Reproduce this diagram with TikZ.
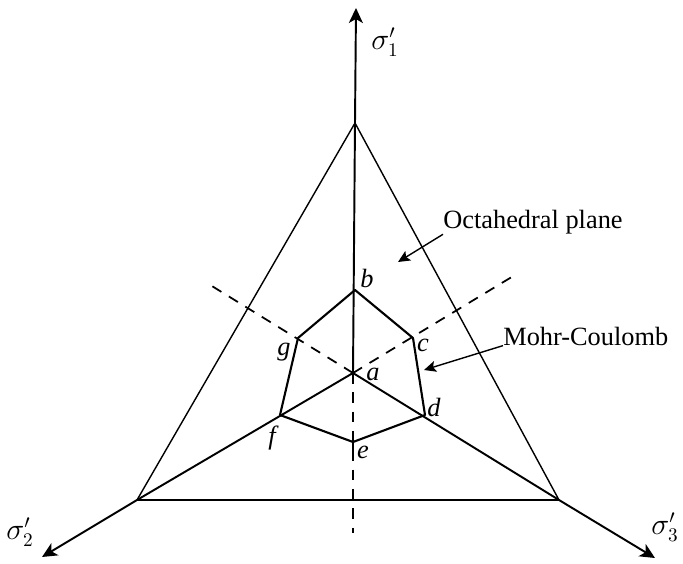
\documentclass[tikz,border=0pt]{standalone}
\usepackage{fontspec}
\setmainfont{Liberation Serif}
\usetikzlibrary{arrows.meta}

\begin{document}
\begin{tikzpicture}[x=0.02cm, y=-0.02cm,
  every node/.style={font=\fontsize{15}{18}\selectfont, inner sep=0pt},
  axis/.style={line width=1.1pt},
  tri/.style={line width=0.8pt},
  hexa/.style={line width=1.2pt, line join=round},
  dashax/.style={line width=1pt, dash pattern=on 6pt off 5pt},
  tip/.style={-{Stealth[length=3mm, width=2.8mm, inset=0.8mm]}},
  pointer/.style={line width=0.8pt, -{Stealth[length=2.4mm, width=2.2mm, inset=0.5mm]}},
  lab/.style={font=\fontsize{15}{18}\selectfont\itshape},
  sig/.style={font=\fontsize{16}{18}\selectfont}]
  \useasboundingbox (0,0) rectangle (683,564);
  % centre, triangle corners, axis ends
  \coordinate (a) at (353,373);
  \coordinate (v1) at (355,123);
  \coordinate (v2) at (137,500);
  \coordinate (v3) at (559,500);
  \coordinate (tip1) at (356,8);
  \coordinate (tip2) at (42,557);
  \coordinate (tip3) at (655,558);
  % ends of the dashed lines
  \coordinate (ul) at (207,283);
  \coordinate (ur) at (515,275);
  \coordinate (dn) at (353,533);
  % hexagon corners
  \coordinate (b) at (355,290);
  \coordinate (c) at (413,338);
  \coordinate (d) at (425,415);
  \coordinate (e) at (353,442);
  \coordinate (f) at (280,415);
  \coordinate (g) at (298,338);
  \coordinate (e1) at (353,432);
  \coordinate (e2) at (353,455);

  \draw[tri] (v1) -- (v2);
  \draw[tri] (v1) -- (v3);
  \draw[axis] (v2) -- (v3);
  \draw[axis, tip] (a) -- (v1) -- (tip1);
  \draw[axis, tip] (a) -- (v2) -- (tip2);
  \draw[axis, tip] (a) -- (v3) -- (tip3);
  \draw[dashax] (a) -- (ul);
  \draw[dashax] (a) -- (ur);
  \draw[dashax] (a) -- (dn);
  \draw[axis] (e1) -- (e2);
  \draw[hexa] (b) -- (c) -- (d) -- (e) -- (f) -- (g) -- cycle;

  \node[lab] (lb) at (367,278) {b};
  \node[lab] (lc) at (423,345) {c};
  \node[lab] (la) at (373,374) {a};
  \node[lab] (ld) at (434,407) {d};
  \node[lab] (le) at (363,452) {e};
  \node[lab] (lf) at (272,438) {f};
  \node[lab] (lg) at (284,352) {g};

  \node[sig] (s1) at (385,42) {$\sigma'_1$};
  \node[sig] (s2) at (20,532) {$\sigma'_2$};
  \node[sig] (s3) at (665,527) {$\sigma'_3$};

  \node[anchor=west] (octa) at (443,222) {Octahedral plane};
  \node[anchor=west] (mohr) at (503,336) {Mohr-Coulomb};
  \coordinate (octatip) at (398,262);
  \coordinate (mohrtip) at (424,370);
  \draw[pointer] (octa.south west) -- (octatip);
  \draw[pointer] (mohr.south west) -- (mohrtip);
\end{tikzpicture}
\end{document}
